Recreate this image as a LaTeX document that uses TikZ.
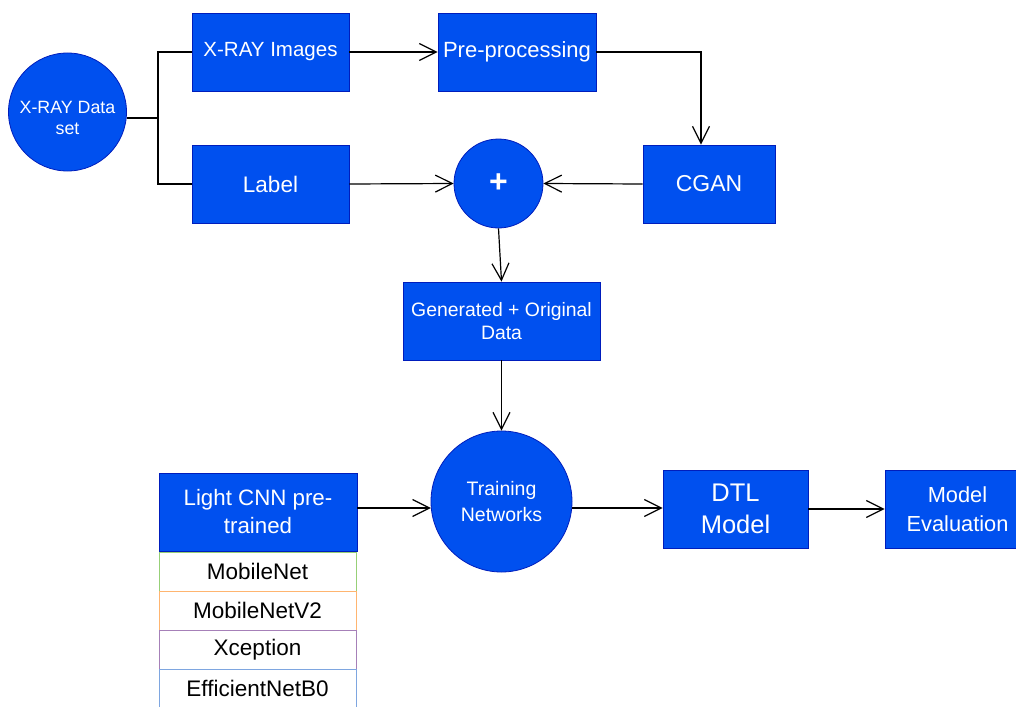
\documentclass[tikz,border=0pt]{standalone}
\usepackage{fontspec}
\setmainfont{Liberation Sans}
\usetikzlibrary{arrows.meta,calc}
\definecolor{bluefill}{HTML}{0050EF}
\definecolor{blueline}{HTML}{001DBC}
\definecolor{lgreen}{HTML}{97D077}
\definecolor{lorange}{HTML}{FFB570}
\definecolor{lpurple}{HTML}{A680B8}
\definecolor{lblue}{HTML}{7EA6E0}
\newcommand\fsz[2]{\fontsize{#1}{#2}\selectfont}
\tikzset{
  bbox/.style={draw=blueline, fill=bluefill, line width=0.8pt, text=white, align=center, inner sep=2pt, rectangle},
  bcirc/.style={draw=blueline, fill=bluefill, line width=0.8pt, text=white, align=center, inner sep=0pt, circle},
  litem/.style={draw=#1, fill=white, line width=1pt, text=black, minimum width=197pt, minimum height=39pt, inner sep=0pt, font=\fsz{22.5}{27}},
  conn/.style={draw=black, line width=1.2pt, -{Straight Barb[length=17pt,width=17pt,line width=1.2pt]}},
  bracket/.style={draw=black, line width=2.4pt},
}
\begin{document}
\begin{tikzpicture}[x=1pt,y=-1pt]
\useasboundingbox (0,0) rectangle (1016,706);
\clip (0,0) rectangle (1016,706);
\node[bcirc, minimum size=118pt, font=\fsz{17.8}{21.5}] (data) at (67.5,112) {\rule{0pt}{24pt}X-RAY Data\\set};
\node[bbox, minimum width=157pt, minimum height=78pt, font=\fsz{20.5}{24}] (xi) at (270.5,52) {X-RAY Images};
\node[bbox, minimum width=157pt, minimum height=78pt, font=\fsz{22.5}{27}] (label) at (270.5,184) {Label};
\node[bbox, minimum width=158pt, minimum height=78pt, font=\fsz{22}{26}] (pre) at (517,52) {Pre-processing};
\node[bbox, minimum width=132pt, minimum height=78pt, font=\fsz{23}{27}] (cgan) at (709,184) {CGAN};
\node[bcirc, minimum size=89pt, font=\fsz{32}{36}\bfseries] (plus) at (498.5,183.5) {+};
\node[bbox, minimum width=197pt, minimum height=78pt, font=\fsz{19.4}{23}] (gen) at (501.5,321) {Generated + Original\\Data};
\node[bcirc, minimum size=141pt, font=\fsz{19.5}{26}] (train) at (501.5,501.5) {Training\\Networks};
\node[bbox, minimum width=198pt, minimum height=78pt, font=\fsz{22.3}{28}] (light) at (258,512) {Light CNN pre-\\trained};
\node[litem=lgreen] (m1) at (257.5,571.5) {MobileNet};
\node[litem=lorange] (m2) at (257.5,610.5) {MobileNetV2};
\node[litem=lpurple] (m3) at (257.5,649.5) {Xception};
\node[litem=lblue] (m4) at (257.5,688.5) {EfficientNetB0};
\node[bbox, minimum width=145pt, minimum height=78pt, font=\fsz{25.5}{32}] (dtl) at (735.5,509) {DTL\\Model};
\node[bbox, minimum width=145pt, minimum height=78pt, font=\fsz{21.8}{29}] (eval) at (957.5,509) {Model\\Evaluation};
% bracket
\coordinate (br) at (158,118);
\draw[bracket] (data.east |- br) -- (br);
\draw[bracket] (xi.west) -| (br) |- (label.west);
% connectors
\draw[conn] (xi.east) -- (pre.west);
\draw[conn] (pre.east) -| ($(cgan.north)+(-8,0)$);
\draw[conn] (label.east) -- (plus.west);
\draw[conn] (cgan.west) -- (plus.east);
\draw[conn] (plus.south) -- (gen.north);
\draw[conn] (gen.south) -- (train.north);
\draw[conn] ($(light.east)+(0,-4)$) -- ($(train.west)+(0.3,6.5)$);
\draw[conn] ($(train.east)+(-0.3,6.5)$) -- ($(dtl.west)+(0,-1)$);
\draw[conn] (dtl.east) -- (eval.west);
\end{tikzpicture}
\end{document}
